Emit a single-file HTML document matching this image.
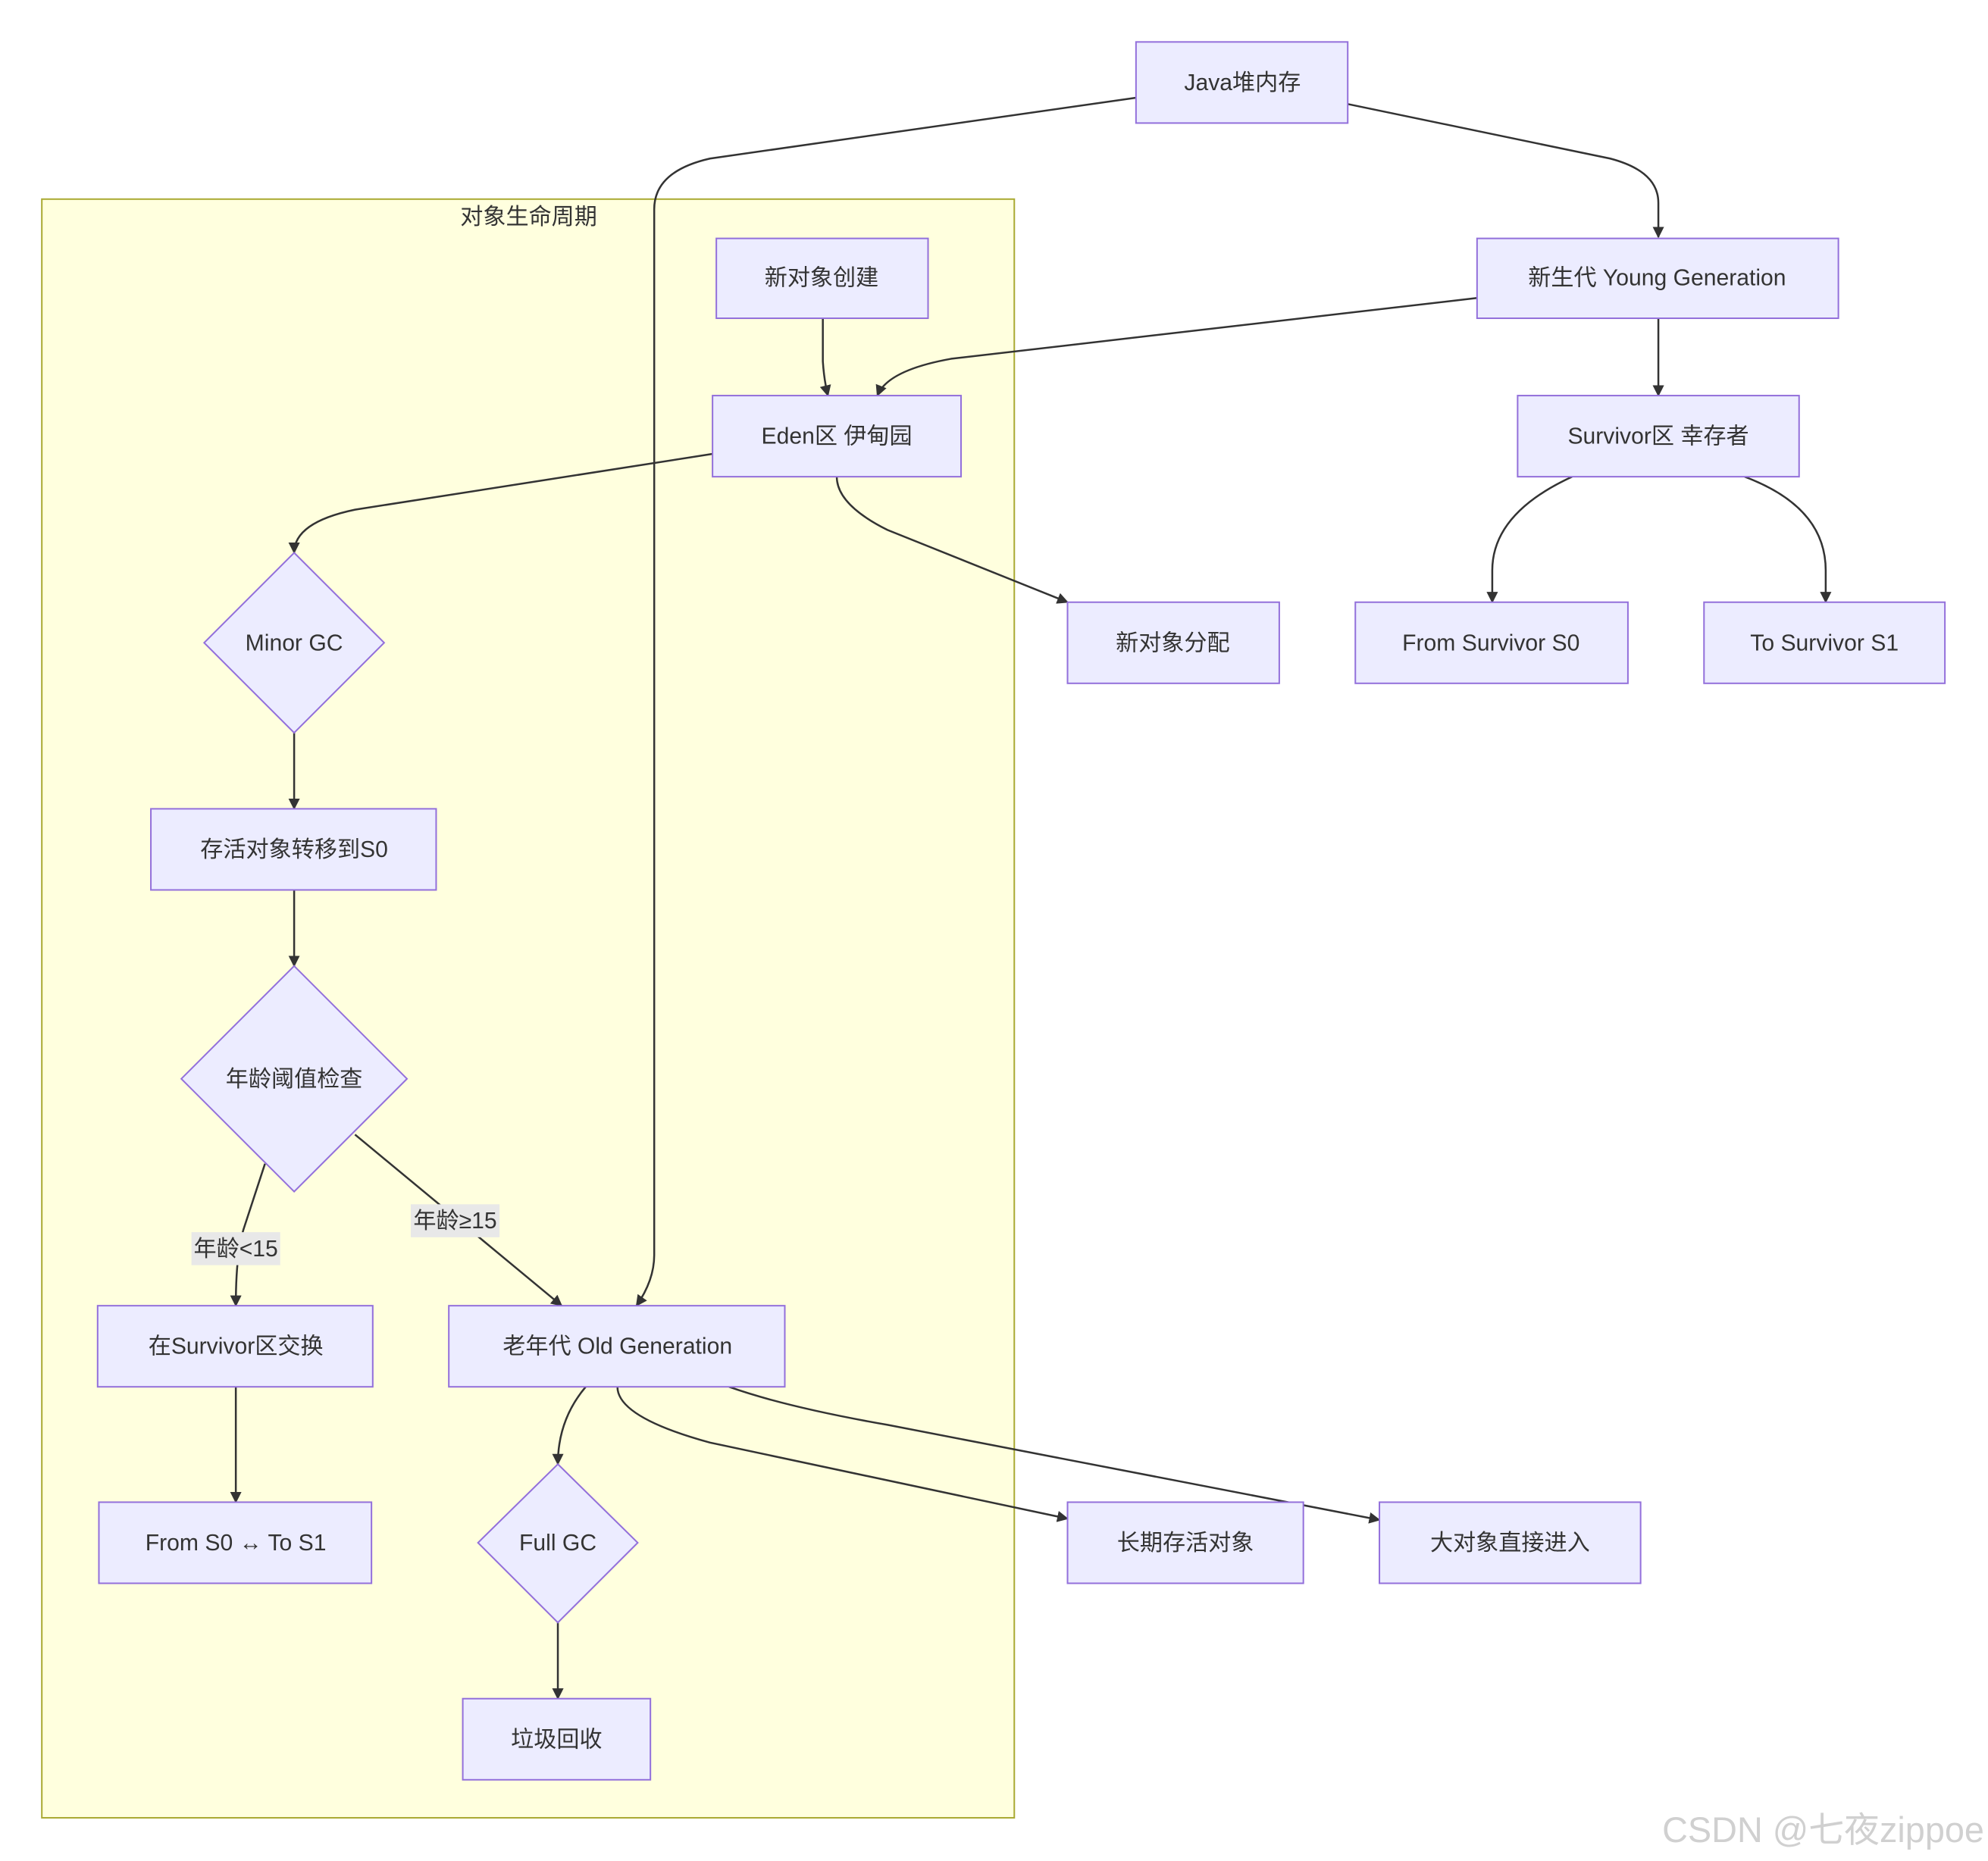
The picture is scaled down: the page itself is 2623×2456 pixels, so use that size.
<!DOCTYPE html>
<html><head><meta charset="utf-8"><style>
html,body{margin:0;padding:0;background:#fff;}
svg{display:block;}
text{font-family:"Liberation Sans","Noto Sans CJK SC",sans-serif;font-size:18px;fill:#333;}
.n{fill:#ececff;stroke:#9370db;stroke-width:1.2;}
.e{fill:none;stroke:#333;stroke-width:1.5;marker-end:url(#a);}
</style></head><body>
<svg width="2623" height="2456" viewBox="0 0 1568 1468" xmlns="http://www.w3.org/2000/svg">
<defs><marker id="a" viewBox="0 0 10 10" refX="9" refY="5" markerWidth="6" markerHeight="6" orient="auto"><path d="M0,0 L10,5 L0,10 z" fill="#333"/></marker></defs>
<rect x="0" y="0" width="1568" height="1468" fill="#fff"/>
<rect x="33" y="157" width="767" height="1277" fill="#ffffde" stroke="#aaaa33" stroke-width="1.2"/>
<text x="417" y="177" text-anchor="middle">对象生命周期</text>

<!-- edges -->
<path class="e" d="M896,77 L560,125 Q516,135 516,165 L516,990 Q516,1010 502,1030"/>
<path class="e" d="M1063,82 L1270,125 Q1308,135 1308,160 L1308,187"/>
<path class="e" d="M649,251 L649,285 Q650,300 653,312"/>
<path class="e" d="M1165,235 L750,283 Q700,292 692,312"/>
<path class="e" d="M1308,251 L1308,312"/>
<path class="e" d="M562,358 L280,402 Q232,412 232,436"/>
<path class="e" d="M660,376 Q660,398 700,418 L842,475"/>
<path class="e" d="M1240,376 Q1177,405 1177,450 L1177,475"/>
<path class="e" d="M1376,376 Q1440,400 1440,450 L1440,475"/>
<path class="e" d="M232,578 L232,638"/>
<path class="e" d="M232,702 L232,762"/>
<path class="e" d="M209,918 L192,970 Q186,990 186,1030"/>
<path class="e" d="M280,895 L443,1030"/>
<path class="e" d="M186,1094 L186,1185"/>
<path class="e" d="M462,1094 Q440,1120 440,1155"/>
<path class="e" d="M487,1094 Q487,1118 560,1138 L842,1198"/>
<path class="e" d="M575,1094 Q620,1110 700,1124 L1088,1199"/>
<path class="e" d="M440,1280 L440,1340"/>

<rect x="151" y="972" width="70" height="26" fill="#e8e8e8"/>
<text x="186" y="991" text-anchor="middle">年龄&lt;15</text>
<rect x="324" y="950" width="70" height="26" fill="#e8e8e8"/>
<text x="359" y="969" text-anchor="middle">年龄≥15</text>

<!-- nodes -->
<rect class="n" x="896" y="33" width="167" height="64"/><text x="980" y="71" text-anchor="middle">Java堆内存</text>
<rect class="n" x="565" y="188" width="167" height="63"/><text x="648" y="225" text-anchor="middle">新对象创建</text>
<rect class="n" x="1165" y="188" width="285" height="63"/><text x="1307" y="225" text-anchor="middle">新生代 Young Generation</text>
<rect class="n" x="562" y="312" width="196" height="64"/><text x="660" y="350" text-anchor="middle">Eden区 伊甸园</text>
<rect class="n" x="1197" y="312" width="222" height="64"/><text x="1308" y="350" text-anchor="middle">Survivor区 幸存者</text>
<polygon class="n" points="232,436 303,507 232,578 161,507"/><text x="232" y="513" text-anchor="middle">Minor GC</text>
<rect class="n" x="842" y="475" width="167" height="64"/><text x="925" y="513" text-anchor="middle">新对象分配</text>
<rect class="n" x="1069" y="475" width="215" height="64"/><text x="1176" y="513" text-anchor="middle">From Survivor S0</text>
<rect class="n" x="1344" y="475" width="190" height="64"/><text x="1439" y="513" text-anchor="middle">To Survivor S1</text>
<rect class="n" x="119" y="638" width="225" height="64"/><text x="232" y="676" text-anchor="middle">存活对象转移到S0</text>
<polygon class="n" points="232,762 321,851 232,940 143,851"/><text x="232" y="857" text-anchor="middle">年龄阈值检查</text>
<rect class="n" x="77" y="1030" width="217" height="64"/><text x="186" y="1068" text-anchor="middle">在Survivor区交换</text>
<rect class="n" x="354" y="1030" width="265" height="64"/><text x="487" y="1068" text-anchor="middle">老年代 Old Generation</text>
<rect class="n" x="78" y="1185" width="215" height="64"/><text x="186" y="1223" text-anchor="middle">From S0 ↔ To S1</text>
<polygon class="n" points="440,1155 503,1217 440,1280 377,1217"/><text x="440" y="1223" text-anchor="middle">Full GC</text>
<rect class="n" x="842" y="1185" width="186" height="64"/><text x="935" y="1223" text-anchor="middle">长期存活对象</text>
<rect class="n" x="1088" y="1185" width="206" height="64"/><text x="1191" y="1223" text-anchor="middle">大对象直接进入</text>
<rect class="n" x="365" y="1340" width="148" height="64"/><text x="439" y="1378" text-anchor="middle">垃圾回收</text>

<text x="1565" y="1453" text-anchor="end" style="font-size:28px;fill:#d0d0d0;">CSDN @七夜zippoe</text>
</svg>
</body></html>
